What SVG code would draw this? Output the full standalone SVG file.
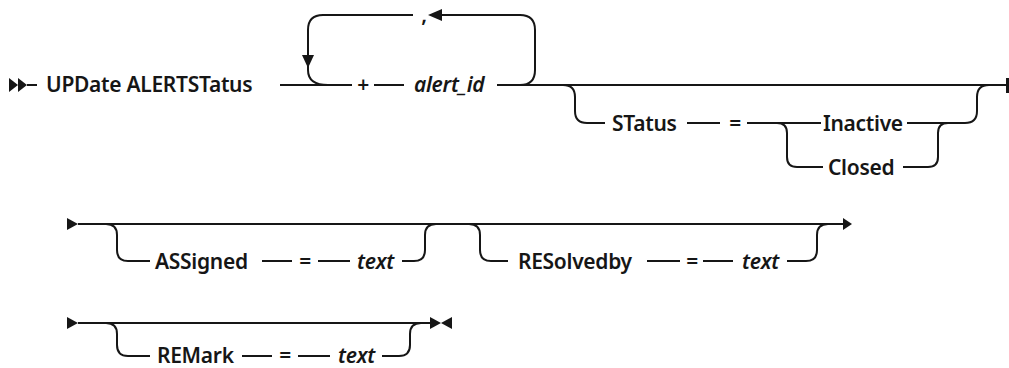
<svg xmlns="http://www.w3.org/2000/svg" width="1009" height="368" viewBox="0 0 1009 368">
<style>
.ln{fill:none;stroke:#161616;stroke-width:2}
.ah{fill:#161616;stroke:none}
text{font-family:"Noto Sans","Liberation Sans",sans-serif;font-size:21px;letter-spacing:-0.3px;font-weight:600;fill:#161616}
.it{font-style:italic}
.c{text-anchor:middle}
</style>
<rect width="1009" height="368" fill="#fff"/>
<g id="connectors">
<!-- row 1 -->
<polygon class="ah" points="9,78 18,85 9,92"/>
<polygon class="ah" points="18,78 27,85 18,92"/>
<path class="ln" d="M27,85 H37"/>
<path class="ln" d="M280,85 H352"/>
<path class="ln" d="M328,85 Q308,85 308,70 V30 Q308,15 323,15 H413"/>
<polygon class="ah" points="302,55 314,55 308,68"/>
<polygon class="ah" points="428,15 442,9 442,21"/>
<path class="ln" d="M442,15 H520 Q535,15 535,30 V70 Q535,85 520,85"/>
<path class="ln" d="M374,85 H404"/>
<path class="ln" d="M497,85 H1006"/>
<rect class="ah" x="1006" y="78" width="3" height="15"/>
<path class="ln" d="M563,85 Q575,85 575,97 V111 Q575,123 587,123 H605"/>
<path class="ln" d="M687,123 H720"/>
<path class="ln" d="M747,123 H821"/>
<path class="ln" d="M907,123 H965 Q977,123 977,111 V97 Q977,85 989,85"/>
<path class="ln" d="M777,123 Q787,123 787,133 V157 Q787,167 797,167 H823"/>
<path class="ln" d="M903,167 H928 Q938,167 938,157 V133 Q938,123 948,123"/>
<!-- row 2 -->
<polygon class="ah" points="67,218 78,224 67,230"/>
<path class="ln" d="M78,224 H843"/>
<polygon class="ah" points="843,218 852,224 843,230"/>
<path class="ln" d="M106,224 Q117,224 117,235 V250 Q117,261 128,261 H150"/>
<path class="ln" d="M262,261 H292"/>
<path class="ln" d="M318,261 H350"/>
<path class="ln" d="M402,261 H414 Q425,261 425,250 V235 Q425,224 436,224"/>
<path class="ln" d="M469,224 Q480,224 480,235 V250 Q480,261 491,261 H508"/>
<path class="ln" d="M647,261 H680"/>
<path class="ln" d="M703,261 H733"/>
<path class="ln" d="M787,261 H806 Q817,261 817,250 V235 Q817,224 828,224"/>
<!-- row 3 -->
<polygon class="ah" points="67,317 78,323 67,329"/>
<path class="ln" d="M78,323 H430"/>
<path class="ln" d="M106,323 Q117,323 117,334 V345 Q117,356 128,356 H150"/>
<path class="ln" d="M242,356 H272"/>
<path class="ln" d="M298,356 H330"/>
<path class="ln" d="M382,356 H399 Q410,356 410,345 V334 Q410,323 421,323"/>
<polygon class="ah" points="430,317 441,323 430,329"/>
<polygon class="ah" points="452,317 441,323 452,329"/>
</g>
<g id="n-cmd"><text x="46" y="92">UPDate ALERTSTatus</text></g>
<g id="n-comma"><text x="424" y="22" class="c">,</text></g>
<g id="n-plus"><text x="363" y="92" class="c">+</text></g>
<g id="n-alertid"><text x="414" y="92" class="it">alert_id</text></g>
<g id="n-status"><text x="612" y="131">STatus</text></g>
<g id="n-eq1"><text x="735" y="131" class="c">=</text></g>
<g id="n-inactive"><text x="823" y="131">Inactive</text></g>
<g id="n-closed"><text x="828" y="175">Closed</text></g>
<g id="n-assigned"><text x="155" y="269">ASSigned</text></g>
<g id="n-eq2"><text x="305" y="269" class="c">=</text></g>
<g id="n-text1"><text x="357" y="269" class="it">text</text></g>
<g id="n-resolvedby"><text x="518" y="269">RESolvedby</text></g>
<g id="n-eq3"><text x="692" y="269" class="c">=</text></g>
<g id="n-text2"><text x="742" y="269" class="it">text</text></g>
<g id="n-remark"><text x="157" y="363">REMark</text></g>
<g id="n-eq4"><text x="285" y="363" class="c">=</text></g>
<g id="n-text3"><text x="338" y="363" class="it">text</text></g>
</svg>
